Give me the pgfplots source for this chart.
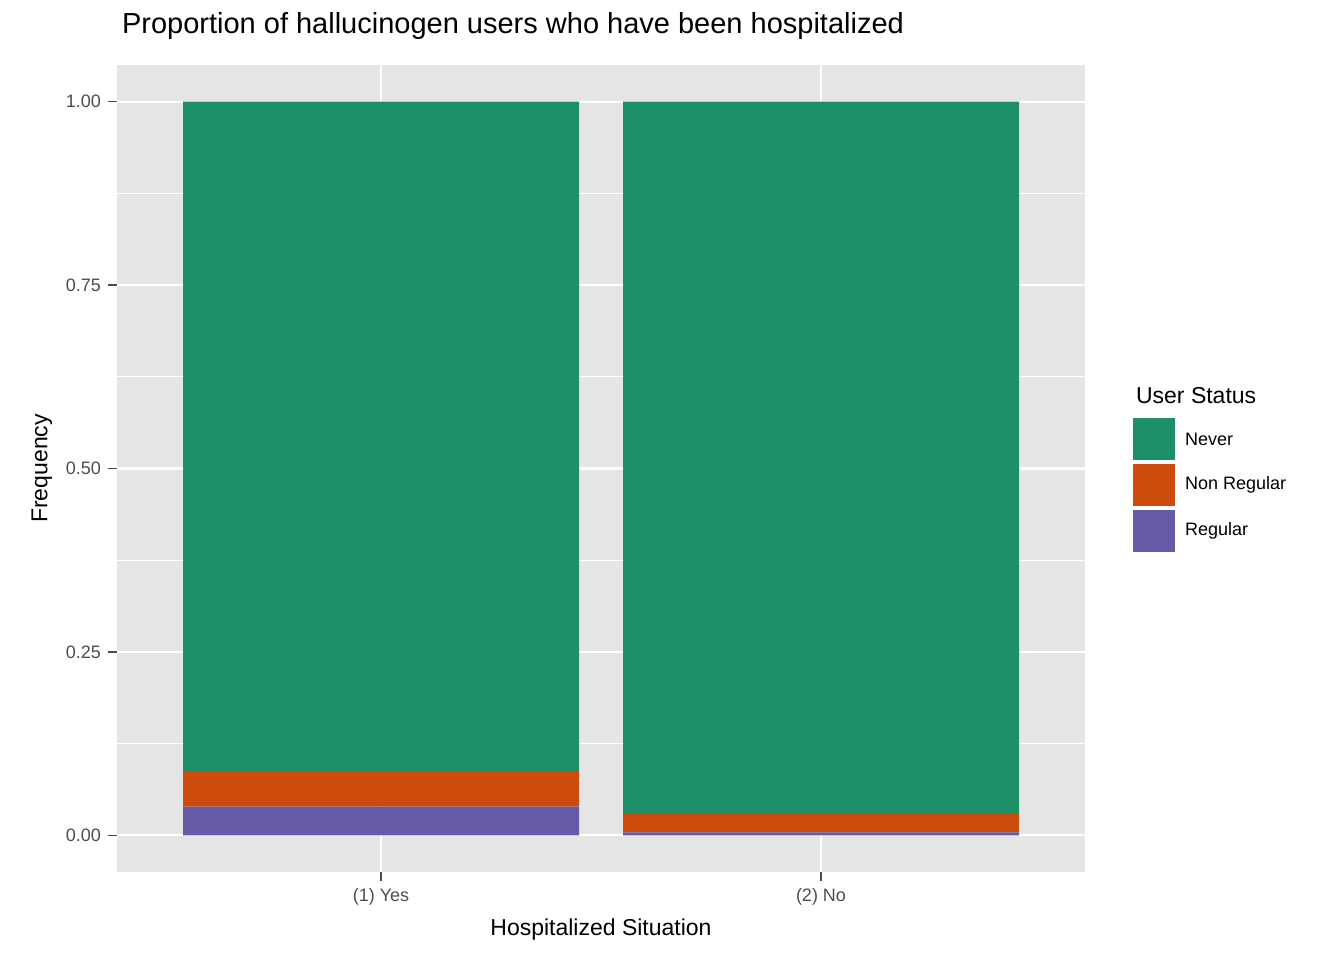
\documentclass[border=0pt]{standalone}
\usepackage{pgfplots}
\pgfplotsset{compat=1.18}
\usepackage{fontspec}
\setmainfont{Liberation Sans}
\definecolor{gnever}{HTML}{1E9068}
\definecolor{gnonreg}{HTML}{CD4B0C}
\definecolor{greg}{HTML}{655BA6}
\definecolor{panel}{HTML}{E5E5E5}
\definecolor{ticktxt}{HTML}{4D4D4D}
\begin{document}
\begin{tikzpicture}
\useasboundingbox (0pt,0pt) rectangle (672pt,480pt);
\begin{axis}[at={(58.5pt,44pt)},anchor=south west,scale only axis,
 width=484pt,height=403.5pt,
 xmin=0.4,xmax=2.6,ymin=-0.05,ymax=1.05,
 ybar stacked,bar width=0.9,
 axis background/.style={fill=panel},
 axis line style={draw=none},
 xtick={1,2},xticklabels={(1) Yes,(2) No},
 ytick={0,0.25,0.5,0.75,1},
 yticklabels={0.00,0.25,0.50,0.75,1.00},
 minor ytick={0.125,0.375,0.625,0.875},
 grid=both,
 major grid style={white,line width=1.1pt},
 minor grid style={white,line width=0.5pt},
 tick style={black!70,line width=0.8pt},
 major tick length=4.5pt,
 tick align=outside,
 xtick pos=bottom,ytick pos=left,
 minor tick length=0pt,
 ticklabel style={font=\fontsize{9}{10}\selectfont,text=ticktxt},
 xlabel={Hospitalized Situation},ylabel={Frequency},
 label style={font=\fontsize{11.5}{13}\selectfont},
 title={Proportion of hallucinogen users who have been hospitalized},
 title style={font=\fontsize{14.5}{16}\selectfont,anchor=south west,at={(rel axis cs:0,1)},xshift=-1pt,yshift=3pt},
]
\addplot[fill=greg,draw=none] coordinates {(1,0.039) (2,0.004)};
\addplot[fill=gnonreg,draw=none] coordinates {(1,0.049) (2,0.025)};
\addplot[fill=gnever,draw=none] coordinates {(1,0.912) (2,0.971)};
\end{axis}
\node[anchor=west,font=\fontsize{11.5}{13}\selectfont] at (564.5pt,282pt) {User Status};
\fill[gnever] (566.5pt,250pt) rectangle (587.5pt,271pt);
\fill[gnonreg] (566.5pt,227pt) rectangle (587.5pt,248pt);
\fill[greg] (566.5pt,204pt) rectangle (587.5pt,225pt);
\node[anchor=west,font=\fontsize{9}{10}\selectfont] at (589pt,260.5pt) {Never};
\node[anchor=west,font=\fontsize{9}{10}\selectfont] at (589pt,237.5pt) {Non Regular};
\node[anchor=west,font=\fontsize{9}{10}\selectfont] at (589pt,214.5pt) {Regular};
\end{tikzpicture}
\end{document}
